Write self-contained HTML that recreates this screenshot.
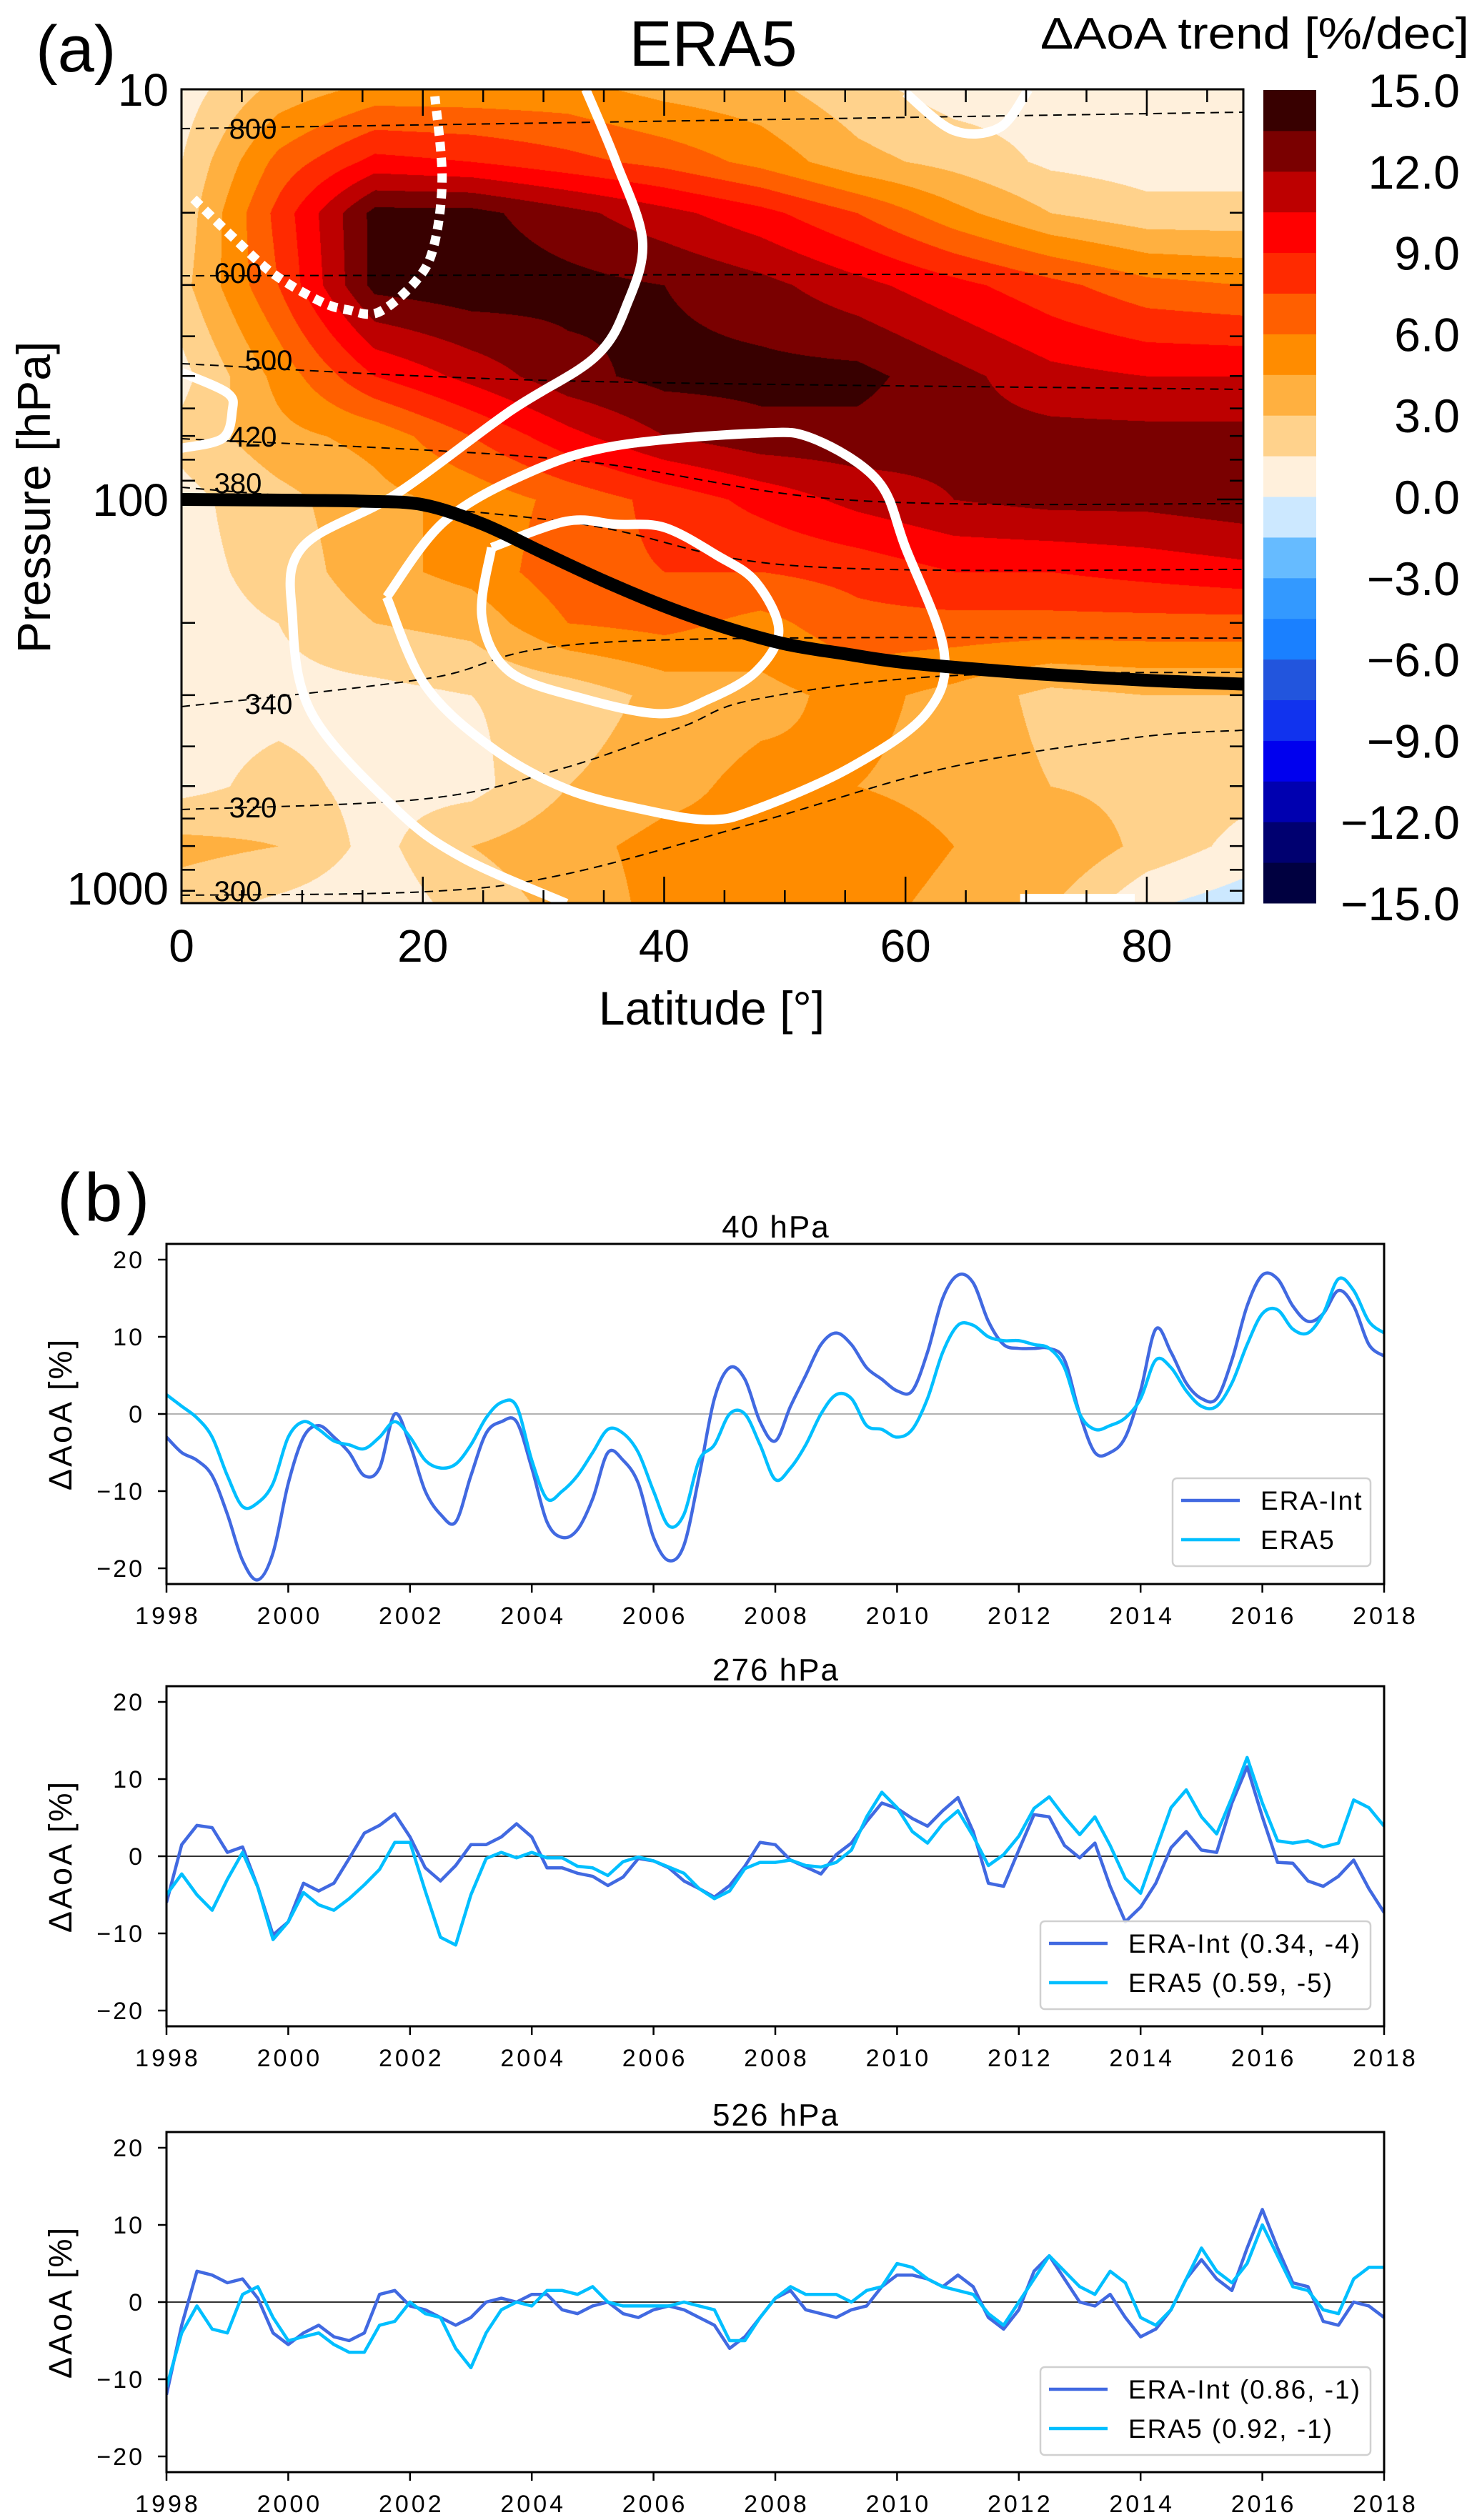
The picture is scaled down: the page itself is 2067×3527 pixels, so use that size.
<!DOCTYPE html>
<html><head><meta charset="utf-8">
<style>
html,body{margin:0;padding:0;background:#fff;}
#wrap{position:relative;width:2067px;height:3527px;overflow:hidden;background:#fff;}
#cf{position:absolute;left:254px;top:125px;}
#svg{position:absolute;left:0;top:0;}
text{font-family:"Liberation Sans",Arial,sans-serif;}
</style></head>
<body>
<div id="wrap">
<canvas id="cf" width="1486" height="1139"></canvas>
<svg id="svg" width="2067" height="3527" xmlns="http://www.w3.org/2000/svg"></svg>
</div>
<script>
// ---------- Panel (a) data ----------
const gridLats = [0,8,16,24,32,40,48,56,64,72,80,88];
const gridPres = [10,15,20,30,50,70,100,150,200,300,500,700,1000];
const trendRows = [
 [0.7,3.5,5,5,5,4,3.5,2,0.8,0.8,0.8,0.8],
 [1.5,6.5,9.5,9,8,7,5.5,3.5,2.5,1.2,0.8,0.8],
 [2,8,14,14,12.5,11,9.5,7.5,5,3,2,2],
 [2.5,7.5,14,14.5,14,13.5,12.5,11,9.5,8,6.5,6],
 [1,5,9,11,13,14,14,14,12.5,11,10.5,10.5],
 [2,4,5,7.5,10,12,13,13,12.5,12.5,12.5,12.5],
 [1,2.5,4,5,6.5,8,9.5,11,12,12.5,12.5,13],
 [1,2,4,5,7,7.5,7.5,8,9,9,9.5,10],
 [1,1.5,3,3.5,6,6.5,5.5,7,7,7,7,7],
 [1,1,1,1.5,2,3.5,4,5,4,2.5,3,3],
 [1,2,1,1,3,4,5,4.5,4,3,2.5,2],
 [3.5,3,1,3,4,5,5,5.5,4.5,4.5,2.5,1],
 [2,1,0.5,2,3.5,5,5,5,4,3,0,-1]
];
const cbColors = ["#000040","#000070","#0000b0","#0000ee","#1133ee","#2255dd","#1a80ff","#3399ff","#66bbff","#cce8ff",
 "#fff0dc","#ffd28c","#ffb040","#ff8c00","#ff5f00","#ff2a00","#ff0000","#bd0000","#7a0000","#380000"];
const cbLabels = ["15.0","12.0","9.0","6.0","3.0","0.0","\u22123.0","\u22126.0","\u22129.0","\u221212.0","\u221215.0"];
const latTicks = [0,20,40,60,80];
const tropoLat = [0,10,15,20,25,30,35,40,45,50,55,60,70,80,88];
const tropoP = [100,100.5,101,103,115,135,158,182,205,225,238,250,265,276,282];
const jetOuterLat = [33.5,36,38.2,37,34.3,27.2,17.8,10,9.2,10.8,17.8,23.3,31.9];
const jetOuterP = [10,15,23.3,33,44.9,61,97,131,194,333,570,748,966];
const jetMidLat = [17,21.8,28.8,36,47.6,52.3,57.7,60,63.2,61.7,55.4,47.6,43.7,38.2,31.9,25.7,20.2,17];
const jetMidP = [173,113,86,74,69,71,90,131,235,333,451,570,604,570,508,403,284,173];
const jetInLat = [25.7,31.9,36,40,44.4,47.6,49.5,47.6,43.7,39.8,33.5,27.2,24.9,25.7];
const jetInP = [131,113,115,117,137,159,209,263,307,333,307,263,194,131];
const eastLat = [1,4.5,7.7,11.6,13.8,16.3,19.4,20.9,21.6,21];
const eastP = [18.5,23.3,28.3,33,34.5,35,29.4,24.2,16.5,10.4];
const trLat = [60,64,67.8,70.2]; const trP=[10.2,12.6,12.4,10];
const lwLat = [0,3.8,4.2,3.4,0]; const lwP=[49,55,61,71,75];
const brLat = [69.5,79]; const brP=[940,940];

const X0=254, X1=1740, Y0=125, Y1=1264, DEC=574;
function xA(lat){return X0+lat*(X1-X0)/88;}
function yA(p){return Y0+(Math.log10(p)-1)*DEC;}

const NS="http://www.w3.org/2000/svg";
const svg=document.getElementById('svg');
function el(tag,attrs,parent){const e=document.createElementNS(NS,tag);for(const k in attrs)e.setAttribute(k,attrs[k]);(parent||svg).appendChild(e);return e;}
function txt(s,attrs,parent){const e=el('text',attrs,parent);e.textContent=s;return e;}

(function(){
 const c=document.getElementById('cf');const ctx=c.getContext('2d');
 const W=c.width,H=c.height;const img=ctx.createImageData(W,H);
 const lp=gridPres.map(p=>Math.log10(p));
 const rgb=cbColors.map(h=>[parseInt(h.substr(1,2),16),parseInt(h.substr(3,2),16),parseInt(h.substr(5,2),16)]);
 for(let j=0;j<H;j++){
  const l=1+j/DEC; let r=0; while(r<lp.length-2&&l>lp[r+1])r++;
  let ty=(l-lp[r])/(lp[r+1]-lp[r]); ty=Math.max(0,Math.min(1,ty));
  for(let i=0;i<W;i++){
   const lat=i/W*88; let cI=Math.min(10,Math.floor(lat/8)); const tx=(lat-gridLats[cI])/8;
   const a=trendRows[r][cI],b=trendRows[r][cI+1],cc=trendRows[r+1][cI],d=trendRows[r+1][cI+1];
   const v=(a*(1-tx)+b*tx)*(1-ty)+(cc*(1-tx)+d*tx)*ty;
   let k=Math.floor((v+15)/1.5); k=Math.max(0,Math.min(19,k));
   const o=(j*W+i)*4; img.data[o]=rgb[k][0];img.data[o+1]=rgb[k][1];img.data[o+2]=rgb[k][2];img.data[o+3]=255;
  }
 }
 ctx.putImageData(img,0,0);
})();

const ga=el('g',{});



function smoothPts(pts){
 let d='M'+pts[0][0].toFixed(1)+','+pts[0][1].toFixed(1);
 const n=pts.length;
 for(let i=0;i<n-1;i++){
  const p0=pts[Math.max(0,i-1)],p1=pts[i],p2=pts[i+1],p3=pts[Math.min(n-1,i+2)];
  const c1=[p1[0]+(p2[0]-p0[0])/6,p1[1]+(p2[1]-p0[1])/6],c2=[p2[0]-(p3[0]-p1[0])/6,p2[1]-(p3[1]-p1[1])/6];
  d+=' C'+c1[0].toFixed(1)+','+c1[1].toFixed(1)+' '+c2[0].toFixed(1)+','+c2[1].toFixed(1)+' '+p2[0].toFixed(1)+','+p2[1].toFixed(1);
 }
 return d;
}
function lpPts(lats,ps){return lats.map((la,i)=>[xA(la),yA(ps[i])]);}

const defs=el('defs',{});
const cp=el('clipPath',{id:'clipA'},defs);el('rect',{x:X0,y:Y0,width:X1-X0,height:Y1-Y0},cp);
const gc=el('g',{'clip-path':'url(#clipA)'},ga);



const isoLines=[
 {lab:"800",pts:[[0,180],[1,157]],lx:354,ly:180},
 {lab:"600",pts:[[0,386],[1,383]],lx:333,ly:382},
 {lab:"500",pts:[[0,509],[0.36,533],[1,545]],lx:376,ly:504},
 {lab:"420",pts:[[0,614],[0.36,643],[0.63,700],[1,705]],lx:354,ly:611},
 {lab:"380",pts:[[0,682],[0.36,730],[0.58,792],[1,797]],lx:333,ly:676},
 {lab:"340",pts:[[0,989],[0.23,950],[0.41,898],[1,893]],lx:376,ly:985},
 {lab:"320",pts:[[0,1133],[0.23,1118],[0.36,1075],[0.47,1018],[0.54,979],[0.72,946],[1,941]],lx:354,ly:1130},
 {lab:"300",pts:[[0,1253],[0.23,1248],[0.36,1224],[0.54,1152],[0.72,1075],[0.9,1032],[1,1022]],lx:333,ly:1247}
];
isoLines.forEach(L=>{
 const pts=L.pts.map(p=>[X0+p[0]*(X1-X0),p[1]]);
 const e=el('path',{d:smoothPts(pts),fill:'none',stroke:'#000','stroke-width':2,'stroke-dasharray':'12 8'},gc);
 
 
});
[[jetOuterLat,jetOuterP,'jet-contour-outer'],[jetMidLat,jetMidP,'jet-contour-middle'],[jetInLat,jetInP,'jet-contour-inner'],[trLat,trP,'jet-contour-top-right'],[lwLat,lwP,'jet-contour-left'],[brLat,brP,'jet-contour-bottom-right']].forEach(a=>{
 const e=el('path',{d:smoothPts(lpPts(a[0],a[1])),fill:'none',stroke:'#fff','stroke-width':13,'stroke-linejoin':'round'},gc);
 
 
});
const ee=el('path',{d:smoothPts(lpPts(eastLat,eastP)),fill:'none',stroke:'#fff','stroke-width':13,'stroke-dasharray':'13 9'},gc);


const tp=el('path',{d:smoothPts(lpPts(tropoLat,tropoP)),fill:'none',stroke:'#000','stroke-width':18},gc);


isoLines.forEach(L=>{
 const t=txt(L.lab,{x:L.lx,y:L.ly+14,'font-size':40,'text-anchor':'middle',fill:'#000'},ga);
 
 
});
const fr=el('rect',{x:X0,y:Y0,width:X1-X0,height:Y1-Y0,fill:'none',stroke:'#000','stroke-width':3},ga);


for(let la=0;la<=85;la+=5){
 const big=(la%20===0);const L=big?37:18;
 el('line',{x1:xA(la),x2:xA(la),y1:Y0,y2:Y0+L,stroke:'#000','stroke-width':2.5},ga);
 el('line',{x1:xA(la),x2:xA(la),y1:Y1,y2:Y1-L,stroke:'#000','stroke-width':2.5},ga);
}
latTicks.forEach(la=>{
 const t=txt(String(la),{x:xA(la),y:1346,'font-size':64,'text-anchor':'middle'},ga);
 
 
});
[10,20,30,40,50,60,70,80,90,100,200,300,400,500,600,700,800,900].forEach(p=>{
 const y=yA(p);if(y>Y1)return;const big=(p===10||p===100);const L=big?37:19;
 el('line',{x1:X0,x2:X0+L,y1:y,y2:y,stroke:'#000','stroke-width':2.5},ga);
 el('line',{x1:X1,x2:X1-L,y1:y,y2:y,stroke:'#000','stroke-width':2.5},ga);
});
[["10",yA(10)],["100",yA(100)],["1000",1243]].forEach(a=>{
 const t=txt(a[0],{x:236,y:a[1]+23,'font-size':64,'text-anchor':'end'},ga);
 
 
});
let t;
t=txt('Latitude [°]',{x:996,y:1434,'font-size':66,'text-anchor':'middle'},ga);


t=txt('Pressure [hPa]',{x:0,y:0,'font-size':66,'text-anchor':'middle',transform:'translate(70,696) rotate(-90)'},ga);


t=txt('ERA5',{x:998,y:92,'font-size':90,'text-anchor':'middle'},ga);


t=txt('(a)',{x:50,y:100,'font-size':92},ga);


t=txt('\u0394AoA trend [%/dec]',{x:2056,y:68,'font-size':62,'text-anchor':'end',textLength:600,lengthAdjust:'spacingAndGlyphs'},ga);


const CB0=126,CBH=(1264-126)/20;
cbColors.forEach((c,k)=>{
 const r=el('rect',{x:1768,y:CB0+(19-k)*CBH,width:74,height:CBH+0.5,fill:c},ga);
 
 
});
cbLabels.forEach((s,k)=>{
 const tt=txt(s,{x:2043,y:CB0+k*2*CBH+24,'font-size':66,'text-anchor':'end'},ga);
 
 
});

// ---------- Panel (b) data ----------
const years = [];
for(let i=0;i<=80;i++) years.push(1998+i*0.25);
const int40 = [-3,-5,-6,-8,-13,-19,-21.5,-18,-9,-3,-1.5,-3,-5,-8,-7,0,-4,-10,-13,-14,-8,-2.5,-1,-1,-7,-14,-16,-15,-11,-5,-6,-9,-16,-19,-17,-8,2,6,4.5,-1,-3.5,1,5,9,10.5,9,6,4.5,3,3,8,15,18,17,12,9,8.5,8.5,8.5,7,0,-5,-5,-3,3,11,8,4,2,2,7,14,18,17.5,14,12,13,16,14,9,7.5];
const era40 = [2.5,1,-0.5,-3,-8,-12,-11.5,-9,-3,-1,-2,-3.5,-4,-4.5,-3,-1,-3,-6,-7,-6.5,-4,-0.5,1.5,1,-6,-11,-10,-8,-5,-2,-2.5,-5,-10,-14.5,-13,-6,-4,0,0,-4,-8.5,-7,-4,0,2.5,2,-1.5,-2,-3,-2,2,8,11.5,11.5,10,9.5,9.5,9,8.5,6,0,-2,-1.5,-0.5,2,7,6,3,1,1,4,9,13,13.5,11,10.5,13,17.5,16,12,10.5];
const int276 = [-6,1.5,4,3.7,0.5,1.2,-4,-10.2,-8.5,-3.5,-4.5,-3.5,-0.3,3,4,5.5,2.5,-1.5,-3.2,-1.2,1.5,1.5,2.5,4.2,2.5,-1.5,-1.5,-2.2,-2.6,-3.8,-2.7,-0.3,-0.6,-1.5,-3.2,-4.2,-5.3,-3.8,-1.3,1.8,1.5,
 -0.5,-1.4,-2.3,0.2,1.7,4.5,6.9,6.2,4.9,3.9,5.9,7.6,3.2,-3.5,-3.9,0.8,5.4,5.1,1.4,-0.2,1.7,-3.9,-8.5,-6.6,-3.5,1.1,3.2,0.8,0.5,6.9,11.6,5.1,-0.8,-0.9,-3.2,-3.9,-2.6,-0.5,-4.2,-7.3];
const era276 = [-5,-2.3,-5,-7,-3,0.5,-4,-10.8,-8.5,-4.7,-6.3,-7,-5.5,-3.7,-1.7,1.8,1.8,-4.5,-10.5,-11.5,-5,-0.3,0.5,-0.2,0.5,-0.2,-0.2,-1.3,-1.5,-2.5,-0.7,-0.1,-0.6,-1.4,-2.2,-4.2,-5.5,-4.5,-1.6,-0.8,-0.8,
 -0.5,-1.2,-1.4,-0.8,0.8,5.1,8.3,6.3,3.2,1.7,4.2,5.9,2.6,-1.2,0.2,2.6,6.2,7.7,5.1,2.8,5.1,1.4,-2.9,-4.8,0.8,6.3,8.6,5.1,2.9,7.6,12.8,6.9,2,1.7,2,1.2,1.7,7.3,6.3,3.9];
const int526 = [-12,-3,4,3.5,2.5,3,0.5,-4,-5.5,-4,-3,-4.5,-5,-4,1,1.5,-0.5,-1,-2,-3,-2,0,0.5,0,1,1,-1,-1.5,-0.5,0,-1.5,-2,-1,-0.5,-1,-2,-3,-6,-4.5,-2,0.5,1.5,-1,-1.5,-2,-1,-0.5,2,3.5,3.5,3,2,3.5,2,-2,-3.5,-1,4,6,3,0,-0.5,1,-2,-4.5,-3.5,-1,3,5.5,3,1.5,7,12,7,2.5,2,-2.5,-3,0,-0.5,-2];
const era526 = [-11,-4,-0.5,-3.5,-4,1,2,-2,-5,-4.5,-4,-5.5,-6.5,-6.5,-3,-2.5,0,-1.5,-2,-6,-8.5,-4,-1,0,-0.5,1.5,1.5,1,2,0,-0.5,-0.5,-0.5,-0.5,0,-0.5,-1,-5,-5,-2,0.5,2,1,1,1,0,1.5,2,5,4.5,3,2,1.5,1,-1.5,-3,0,3,6,4,2,1,4,2.5,-2,-3,-1,3,7,4,2.5,5,10,6,2,1.5,-1,-1.5,3,4.5,4.5];
const yTickVals = [20,10,0,-10,-20];
const yearTicks = [1998,2000,2002,2004,2006,2008,2010,2012,2014,2016,2018];
const titles = ["40 hPa","276 hPa","526 hPa"];
const legInt = ["ERA-Int","ERA-Int (0.34, -4)","ERA-Int (0.86, -1)"];
const legEra = ["ERA5","ERA5 (0.59, -5)","ERA5 (0.92, -1)"];

const BX0=233,BX1=1937;
const panels=[{top:1741,zero:1979,bot:2217,ti:1732},{top:2360,zero:2598,bot:2836,ti:2352},{top:2984,zero:3222,bot:3460,ti:2975}];
const seriesInt=[int40,int276,int526], seriesEra=[era40,era276,era526];
function xB(yr){return BX0+(yr-1998)*(BX1-BX0)/20;}
t=txt('(b)',{x:80,y:1709,'font-size':96,'letter-spacing':6},svg);



panels.forEach((P,pi)=>{
 const g=el('g',{});
 
 
 const yB=v=>P.zero-v*10.8;
 const zl=el('line',{x1:BX0,x2:BX1,y1:yB(0),y2:yB(0),stroke:pi===0?'#999':'#333','stroke-width':pi===0?1.5:2},g);
 
 
 const cid='clipB'+pi;const c=el('clipPath',{id:cid},defs);el('rect',{x:BX0,y:P.top,width:BX1-BX0,height:P.bot-P.top},c);
 [[seriesInt[pi],'#4169e1','era-int-line'],[seriesEra[pi],'#00bfff','era5-line']].forEach(s=>{
  const pts=s[0].map((v,i)=>[xB(years[i]),yB(v)]);
  let d;
  if(pi===0) d=smoothPts(pts); else d=pts.map((p,i)=>(i?'L':'M')+p[0].toFixed(1)+','+p[1].toFixed(1)).join(' ');
  const e=el('path',{d:d,fill:'none',stroke:s[1],'stroke-width':4.5,'stroke-linejoin':'round','clip-path':'url(#'+cid+')'},g);
  
  
 });
 const f=el('rect',{x:BX0,y:P.top,width:BX1-BX0,height:P.bot-P.top,fill:'none',stroke:'#000','stroke-width':3},g);
 
 
 yTickVals.forEach(v=>{
  el('line',{x1:BX0-12,x2:BX0,y1:yB(v),y2:yB(v),stroke:'#000','stroke-width':2.5},g);
  const tt=txt(v<0?'\u2212'+(-v):String(v),{x:202,y:yB(v)+12,'font-size':34,'text-anchor':'end','letter-spacing':3},g);
  
  
 });
 yearTicks.forEach(yr=>{
  el('line',{x1:xB(yr),x2:xB(yr),y1:P.bot,y2:P.bot+12,stroke:'#000','stroke-width':2.5},g);
  const tt=txt(String(yr),{x:xB(yr)+2,y:P.bot+56,'font-size':34,'text-anchor':'middle','letter-spacing':4},g);
  
  
 });
 const ti=txt(titles[pi],{x:1086,y:P.ti,'font-size':44,'text-anchor':'middle','letter-spacing':2},g);
 
 
 const yl=txt('\u0394AoA [%]',{x:0,y:0,'font-size':45,'text-anchor':'middle','letter-spacing':3,transform:'translate(100,'+(P.top+P.bot)/2+') rotate(-90)'},g);
 
 
 const lg=el('g',{},g);
 
 
 const wide=pi>0;
 const lx0=wide?1456:1641, lx1=1918, ly0=P.zero+(wide?91:90), ly1=ly0+123;
 el('rect',{x:lx0,y:ly0,width:lx1-lx0,height:ly1-ly0,rx:6,fill:'#fff','fill-opacity':0.85,stroke:'#d0d0d0','stroke-width':2.5},lg);
 const sx=lx0+12, tx=wide?1579:1764;
 [[legInt[pi],'#4169e1',44],[legEra[pi],'#00bfff',99]].forEach(r=>{
  const ln=el('line',{x1:sx,x2:sx+82,y1:ly0+r[2]-13,y2:ly0+r[2]-13,stroke:r[1],'stroke-width':4.5},lg);
  
  
  const lt=txt(r[0],{x:tx,y:ly0+r[2],'font-size':37,'letter-spacing':2},lg);
  
  
 });
});
</script>
</body></html>
